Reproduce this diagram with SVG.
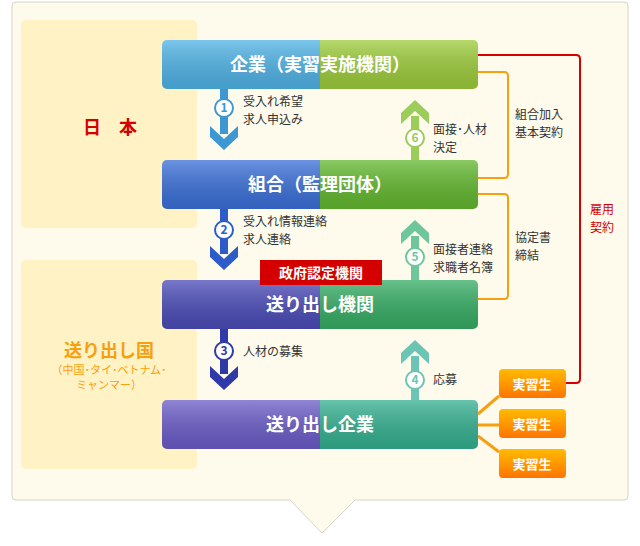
<svg xmlns="http://www.w3.org/2000/svg" width="640" height="546" viewBox="0 0 640 546">
<defs>
<style>
.f{font-family:"Noto Sans CJK JP","Noto Sans",sans-serif}
.bt{font-size:18px;font-weight:bold;fill:#fff;text-anchor:middle}
.lb{font-size:12px;fill:#333}
.num{font-size:12px;font-weight:bold;text-anchor:middle}
.ob{fill:none;stroke:#f5a010;stroke-width:2}
</style>
<linearGradient id="og" x1="0" y1="0" x2="0" y2="1"><stop offset="0" stop-color="#ffbb00"/><stop offset="1" stop-color="#ff7400"/></linearGradient>
<linearGradient id="sh" x1="0" y1="0" x2="0" y2="1"><stop offset="0" stop-color="#fff" stop-opacity="0.25"/><stop offset="1" stop-color="#000" stop-opacity="0.12"/></linearGradient>
<clipPath id="c1"><rect x="162" y="40" width="316" height="49" rx="5"/></clipPath>
<clipPath id="c2"><rect x="162" y="160" width="316" height="49" rx="5"/></clipPath>
<clipPath id="c3"><rect x="162" y="280" width="316" height="49" rx="5"/></clipPath>
<clipPath id="c4"><rect x="162" y="400" width="316" height="49" rx="5"/></clipPath>
</defs>
<path d="M16 2 H624 Q628 2 628 6 V496 Q628 500 624 500 H355 L322 533 L290 500 H16 Q12 500 12 496 V6 Q12 2 16 2 Z" fill="#fefbec" stroke="#d6d4c8"/>
<rect x="21" y="20" width="176" height="208" rx="5" fill="#fff2c4"/>
<rect x="21" y="260" width="176" height="209" rx="5" fill="#fff2c4"/>
<text class="f" x="110" y="134" font-size="18" font-weight="bold" fill="#d40000" text-anchor="middle">日　本</text>
<text class="f" x="109" y="357" font-size="18" font-weight="bold" fill="#f5a010" text-anchor="middle">送り出し国</text>
<text class="f" x="109" y="374" font-size="11" fill="#f5a010" text-anchor="middle">（中国･タイ･ベトナム･</text>
<text class="f" x="109" y="389" font-size="11" fill="#f5a010" text-anchor="middle">ミャンマー）</text>
<g id="connectors">
<path class="ob" d="M478 72 H504 Q508 72 508 76 V174 Q508 178 504 178 H478"/>
<path class="ob" d="M478 194 H504 Q508 194 508 198 V295 Q508 299 504 299 H478"/>
<path d="M478 55 H576 Q580 55 580 59 V379 Q580 383 576 383 H566" fill="none" stroke="#d40000" stroke-width="2"/>
<path d="M478 414 L499 396 M478 425 H499 M478 436 L499 452" stroke="#f5a010" stroke-width="3" fill="none"/>
<g fill="#3d97d3"><rect x="220" y="89" width="8" height="45"/><path d="M210 126 L224 139 L238 126 L238 137 L224 150 L210 137Z"/></g>
<g fill="#2d5cc8"><rect x="220" y="209" width="8" height="45"/><path d="M210 246 L224 259 L238 246 L238 257 L224 270 L210 257Z"/></g>
<g fill="#2e3aa8"><rect x="220" y="329" width="8" height="45"/><path d="M210 366 L224 379 L238 366 L238 377 L224 390 L210 377Z"/></g>
<g fill="#9ccc5a"><rect x="411" y="116" width="8" height="44"/><path d="M401 124 L415 111 L429 124 L429 113 L415 100 L401 113Z"/></g>
<g fill="#6ec79a"><rect x="411" y="236" width="8" height="44"/><path d="M401 244 L415 231 L429 244 L429 233 L415 220 L401 233Z"/></g>
<g fill="#6cc4b4"><rect x="411" y="356" width="8" height="44"/><path d="M401 364 L415 351 L429 364 L429 353 L415 340 L401 353Z"/></g>
<g class="f">
<circle cx="224" cy="108" r="9" fill="#fff" stroke="#3d97d3" stroke-width="2"/><text class="num" x="224" y="112" fill="#3d97d3">1</text>
<circle cx="224" cy="230" r="9" fill="#fff" stroke="#2d5cc8" stroke-width="2"/><text class="num" x="224" y="234" fill="#2d5cc8">2</text>
<circle cx="224" cy="351" r="9" fill="#fff" stroke="#2e3aa8" stroke-width="2"/><text class="num" x="224" y="355" fill="#2e3aa8">3</text>
<circle cx="415" cy="138" r="9" fill="#fff" stroke="#9ccc5a" stroke-width="2"/><text class="num" x="415" y="142" fill="#9ccc5a">6</text>
<circle cx="415" cy="257" r="9" fill="#fff" stroke="#6ec79a" stroke-width="2"/><text class="num" x="415" y="261" fill="#6ec79a">5</text>
<circle cx="415" cy="380" r="9" fill="#fff" stroke="#6cc4b4" stroke-width="2"/><text class="num" x="415" y="384" fill="#6cc4b4">4</text>
<text class="lb" x="243" y="106">受入れ希望</text><text class="lb" x="243" y="124">求人申込み</text>
<text class="lb" x="243" y="226">受入れ情報連絡</text><text class="lb" x="243" y="244">求人連絡</text>
<text class="lb" x="243" y="356">人材の募集</text>
<text class="lb" x="433" y="134">面接･人材</text><text class="lb" x="433" y="152">決定</text>
<text class="lb" x="433" y="254">面接者連絡</text><text class="lb" x="433" y="272">求職者名簿</text>
<text class="lb" x="433" y="384">応募</text>
<text class="lb" x="515" y="119">組合加入</text><text class="lb" x="515" y="137">基本契約</text>
<text class="lb" x="515" y="242">協定書</text><text class="lb" x="515" y="260">締結</text>
<text class="lb" x="602" y="214" text-anchor="middle" style="fill:#d40000">雇用</text><text class="lb" x="602" y="232" text-anchor="middle" style="fill:#d40000">契約</text>
</g>
</g>
<g id="n1" clip-path="url(#c1)"><rect x="162" y="40" width="158" height="49" fill="#4fb3e6"/><rect x="320" y="40" width="158" height="49" fill="#9ccc3a"/><rect x="162" y="40" width="316" height="49" fill="url(#sh)"/><text class="f bt" x="320" y="71">企業（実習実施機関）</text></g>
<g id="n2" clip-path="url(#c2)"><rect x="162" y="160" width="158" height="49" fill="#3a6fd8"/><rect x="320" y="160" width="158" height="49" fill="#62b82e"/><rect x="162" y="160" width="316" height="49" fill="url(#sh)"/><text class="f bt" x="320" y="191">組合（監理団体）</text></g>
<g id="n3" clip-path="url(#c3)"><rect x="162" y="280" width="158" height="49" fill="#4a4bb8"/><rect x="320" y="280" width="158" height="49" fill="#35ad64"/><rect x="162" y="280" width="316" height="49" fill="url(#sh)"/><text class="f bt" x="320" y="311">送り出し機関</text></g>
<g id="n4" clip-path="url(#c4)"><rect x="162" y="400" width="158" height="49" fill="#6a5cc8"/><rect x="320" y="400" width="158" height="49" fill="#33b090"/><rect x="162" y="400" width="316" height="49" fill="url(#sh)"/><text class="f bt" x="320" y="431">送り出し企業</text></g>
<g id="gov"><rect x="260" y="260" width="122" height="25" fill="#d40000"/><text class="f" x="321" y="278" font-size="14" font-weight="bold" fill="#fff" text-anchor="middle">政府認定機関</text></g>
<g id="t1"><rect x="499" y="369" width="67" height="29" rx="4" fill="url(#og)"/><text class="f" x="532" y="389" font-size="13" font-weight="bold" fill="#fff" text-anchor="middle">実習生</text></g>
<g id="t2"><rect x="499" y="409" width="67" height="29" rx="4" fill="url(#og)"/><text class="f" x="532" y="429" font-size="13" font-weight="bold" fill="#fff" text-anchor="middle">実習生</text></g>
<g id="t3"><rect x="499" y="449" width="67" height="29" rx="4" fill="url(#og)"/><text class="f" x="532" y="469" font-size="13" font-weight="bold" fill="#fff" text-anchor="middle">実習生</text></g>
</svg>
